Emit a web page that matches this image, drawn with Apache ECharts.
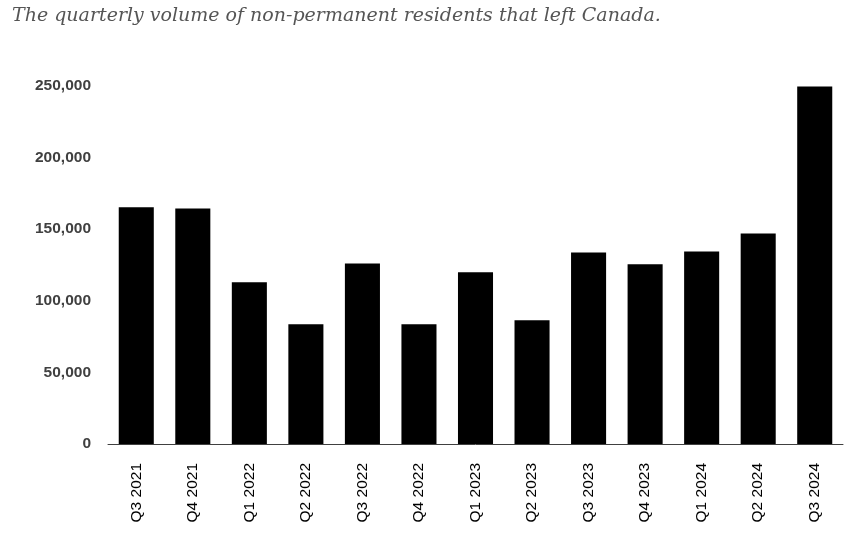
<!DOCTYPE html>
<html>
<head>
<meta charset="utf-8">
<script src="https://cdn.jsdelivr.net/npm/echarts@6/dist/echarts.min.js"></script>
<style>html,body{margin:0;padding:0;background:#fff}#c{width:849px;height:544px}</style>
</head>
<body>
<div id="c"></div>
<script>
const categories = ["Q3 2021","Q4 2021","Q1 2022","Q2 2022","Q3 2022","Q4 2022","Q1 2023","Q2 2023","Q3 2023","Q4 2023","Q1 2024","Q2 2024","Q3 2024"];
const departures = [165200, 164300, 112800, 83600, 126000, 83600, 119800, 86400, 133700, 125400, 134400, 146900, 249500];
const titleText = "The quarterly volume of non-permanent residents that left Canada.";

const chart = echarts.init(document.getElementById('c'), null, {renderer:'canvas'});
chart.setOption({
  animation: false,
  backgroundColor: '#fff',
  title: {
    text: titleText,
    left: 7, top: 2,
    textStyle: {fontFamily: 'DejaVu Serif', fontStyle: 'italic', fontWeight: 'normal', fontSize: 19, color: '#555555'}
  },
  grid: {left: 108, right: 6, top: 85.7, bottom: 100, containLabel: false},
  xAxis: {
    type: 'category',
    data: categories,
    axisLine: {show: true, lineStyle: {color: '#404040', width: 1}},
    axisTick: {show: false},
    axisLabel: {rotate: 90, margin: 19, interval: 0, fontFamily: 'Liberation Sans', fontSize: 15.5, color: '#000'}
  },
  yAxis: {
    type: 'value',
    min: 0, max: 250000, interval: 50000,
    axisLine: {show: false},
    axisTick: {show: false},
    splitLine: {show: false},
    axisLabel: {
      margin: 17,
      fontFamily: 'Liberation Sans', fontWeight: 'bold', fontSize: 15.5, color: '#404040',
      formatter: v => v.toLocaleString('en-US')
    }
  },
  series: [{
    type: 'bar',
    data: departures,
    barWidth: '62%',
    itemStyle: {color: '#000'}
  }]
});
</script>
</body>
</html>
